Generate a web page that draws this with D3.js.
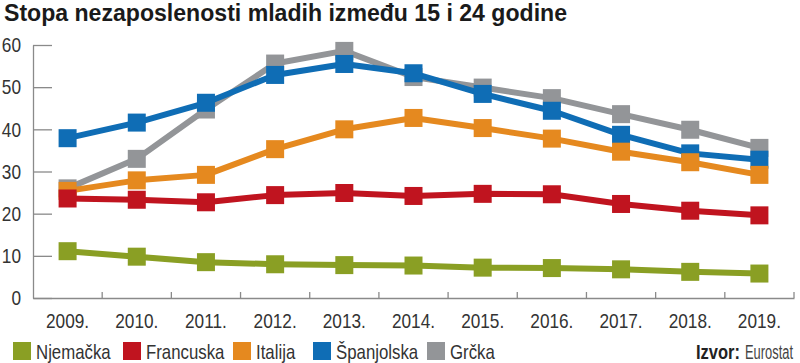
<!DOCTYPE html>
<html><head><meta charset="utf-8">
<script src="https://cdn.jsdelivr.net/npm/d3@7"></script>
<style>
body{margin:0;background:#fff;}
svg{display:block;font-family:"Liberation Sans Narrow","Liberation Sans",Arial,sans-serif;}
</style></head>
<body>
<svg id="c" width="800" height="363"></svg>
<script>
const years = ["2009.","2010.","2011.","2012.","2013.","2014.","2015.","2016.","2017.","2018.","2019."];
const yTicks = [0,10,20,30,40,50,60];
const njemacka   = [11.1, 9.8, 8.5, 8.0, 7.8, 7.7, 7.2, 7.1, 6.8, 6.2, 5.8];
const francuska  = [23.6, 23.3, 22.7, 24.4, 24.9, 24.2, 24.7, 24.6, 22.3, 20.7, 19.6];
const italija    = [25.4, 27.9, 29.2, 35.3, 40.0, 42.7, 40.3, 37.8, 34.7, 32.2, 29.2];
const spanjolska = [37.9, 41.6, 46.3, 52.9, 55.5, 53.3, 48.4, 44.4, 38.7, 34.3, 32.8];
const grcka      = [26.0, 33.0, 44.7, 55.6, 58.6, 52.4, 49.9, 47.4, 43.6, 39.9, 35.6];
const seriesNames = ["Njemačka","Francuska","Italija","Španjolska","Grčka"];
const seriesValues = [njemacka, francuska, italija, spanjolska, grcka];
const colors = ["#8a9f24","#c0141f","#e5891f","#0f6db5","#939598"];

const svg = d3.select("#c");
const x = d3.scaleBand().domain(years).range([33, 794]).padding(0);
const y = d3.scaleLinear().domain([0, 60]).range([298, 45]);
const cx = d => x(d) + x.bandwidth()/2;

function condense(sel, f) {
  sel.each(function() {
    const w = this.getComputedTextLength();
    d3.select(this).attr("textLength", w * f).attr("lengthAdjust", "spacingAndGlyphs");
  });
}

// title
svg.append("text").attr("x", 4).attr("y", 21)
  .attr("font-weight", "bold").attr("font-size", 23).attr("fill", "#1a1a1a")
  .attr("textLength", 563).attr("lengthAdjust", "spacingAndGlyphs")
  .text("Stopa nezaposlenosti mladih između 15 i 24 godine");

// y axis
const ya = svg.append("g").attr("transform", "translate(33,0)")
  .call(d3.axisLeft(y).tickValues(yTicks).tickSize(-19).tickSizeOuter(0).tickPadding(12));
ya.select(".domain").attr("stroke", "#8a8a8a").attr("stroke-width", 1.3);
ya.selectAll(".tick line").attr("stroke", "#8a8a8a").attr("stroke-width", 1.3);
ya.selectAll(".tick text").attr("font-size", 21).attr("fill", "#333")
  .attr("font-family", "'Liberation Sans Narrow','Liberation Sans',sans-serif")
  .call(condense, 0.82);

// x axis
const xa = svg.append("g").attr("transform", "translate(0,298)")
  .call(d3.axisBottom(x).tickSize(0).tickSizeOuter(0).tickPadding(0));
xa.select(".domain").attr("stroke", "#8a8a8a").attr("stroke-width", 1.3);
xa.selectAll(".tick text").attr("y", 30).attr("dy", 0).attr("font-size", 21).attr("fill", "#333")
  .attr("font-family", "'Liberation Sans Narrow','Liberation Sans',sans-serif")
  .call(condense, 0.82);
const bounds = years.slice(1).map(d => x(d)).concat([x.range()[1]]);
xa.selectAll("line.bt").data(bounds).enter().append("line").attr("class","bt")
  .attr("x1", d => d).attr("x2", d => d).attr("y1", 0).attr("y2", -6)
  .attr("stroke", "#8a8a8a").attr("stroke-width", 1.3);

// series: draw in reverse order (Grčka at bottom)
const line = d3.line().x((d, i) => cx(years[i])).y(d => y(d));
const ms = 18;
for (let s = seriesValues.length - 1; s >= 0; s--) {
  const g = svg.append("g");
  g.append("path").datum(seriesValues[s]).attr("d", line)
    .attr("fill", "none").attr("stroke", colors[s]).attr("stroke-width", 6)
    .attr("stroke-linejoin", "round");
  g.selectAll("rect").data(seriesValues[s]).enter().append("rect")
    .attr("x", (d, i) => cx(years[i]) - ms/2).attr("y", d => y(d) - ms/2)
    .attr("width", ms).attr("height", ms).attr("fill", colors[s]);
}

// legend
const legX = [13, 123, 233, 313, 427];
const leg = svg.append("g");
seriesNames.forEach((n, i) => {
  leg.append("rect").attr("x", legX[i]).attr("y", 342).attr("width", 18).attr("height", 18).attr("fill", colors[i]);
  leg.append("text").attr("x", legX[i] + 23).attr("y", 359).attr("font-size", 21).attr("fill", "#333").text(n)
    .call(condense, 0.8);
});
svg.append("text").attr("x", 696).attr("y", 359).attr("font-size", 20).attr("font-weight", "bold")
  .attr("fill", "#222").attr("textLength", 44).attr("lengthAdjust", "spacingAndGlyphs").text("Izvor:");
svg.append("text").attr("x", 745).attr("y", 359).attr("font-size", 20)
  .attr("fill", "#444").attr("textLength", 48).attr("lengthAdjust", "spacingAndGlyphs").text("Eurostat");
</script>
</body></html>
